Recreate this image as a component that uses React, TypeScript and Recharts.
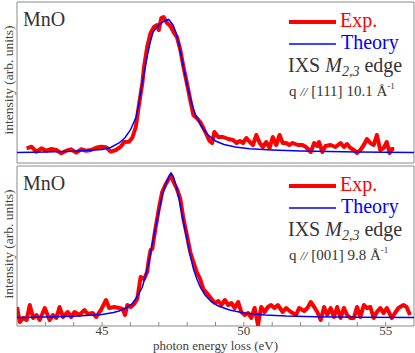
import { LineChart, Line, XAxis, YAxis, ReferenceArea } from 'recharts';

const FONT = 'Liberation Serif, Times New Roman, serif';
const FRAME = '#8a8a8a';
const INK = '#333333';
const AXIS_INK = '#404040';

// photon energy loss (eV)
const xTicks = [43, 44, 45, 46, 47, 48, 49, 50, 51, 52, 53, 54, 55];
const xTickLabels = ['', '', '45', '', '', '', '', '50', '', '', '', '', '55'];

// panel 1: q // [111] 10.1 A^-1, experiment
const expE111 = [42.34, 42.51, 42.69, 42.86, 43.04, 43.21, 43.39, 43.56, 43.74, 43.91, 44.09, 44.26, 44.44, 44.61, 44.79, 44.96, 45.14, 45.31, 45.49, 45.66, 45.78, 45.95, 46.07, 46.19, 46.3, 46.42, 46.48, 46.59, 46.71, 46.83, 46.94, 47.0, 47.09, 47.17, 47.29, 47.41, 47.52, 47.64, 47.76, 47.87, 47.99, 48.11, 48.22, 48.34, 48.46, 48.57, 48.69, 48.79, 48.88, 48.96, 49.1, 49.27, 49.45, 49.62, 49.74, 49.86, 49.97, 50.09, 50.21, 50.32, 50.44, 50.56, 50.67, 50.79, 50.91, 51.02, 51.14, 51.26, 51.37, 51.49, 51.6, 51.72, 51.9, 52.07, 52.19, 52.36, 52.48, 52.59, 52.65, 52.77, 52.88, 53.06, 53.23, 53.41, 53.53, 53.64, 53.76, 53.88, 53.99, 54.11, 54.23, 54.34, 54.46, 54.58, 54.69, 54.81, 54.93, 55.04, 55.14, 55.22, 55.3];
const expI111 = [14.7, 16.3, 11.3, 14.7, 12.3, 14, 13, 9.7, 12.3, 13.7, 10.3, 13.7, 12.3, 13, 15.3, 16.3, 15.7, 11.3, 13, 16.3, 21, 21.3, 25.5, 36, 58, 80, 96, 116, 130, 136, 138, 133, 145, 146, 140, 137, 131, 126, 113, 96, 80, 63, 48, 45, 41, 35, 28, 22, 20, 31, 26, 26, 24, 23, 20, 22, 20, 25, 21, 18, 28, 20, 16, 21, 15, 26, 18, 28, 20, 20, 18, 20, 18, 18, 16, 11, 20, 17, 21, 11, 17, 18, 16, 20, 16, 19, 15, 13, 10, 13, 18, 24, 20, 18, 28, 13, 15, 21, 10, 14, 14];

// panel 1: theory
const thE111 = [42.0, 43.0, 44.0, 44.6, 45.0, 45.3, 45.6, 45.8, 46.0, 46.2, 46.3, 46.4, 46.5, 46.6, 46.7, 46.8, 47.0, 47.2, 47.35, 47.5, 47.6, 47.7, 47.8, 47.9, 48.0, 48.1, 48.2, 48.3, 48.5, 48.7, 49.0, 49.3, 49.7, 50.2, 51.0, 52.0, 53.0, 54.0, 55.0, 56.0];
const thI111 = [10.5, 11, 11.8, 12.7, 13.5, 15.5, 20, 25, 33, 46, 60, 77, 93, 108, 121, 131, 138, 142, 143.5, 138, 131, 120, 106, 92, 78, 66, 56, 48, 37, 29, 22, 18.5, 16, 14.2, 13, 12, 11.4, 11, 10.7, 10.5];

// panel 2: q // [001] 9.8 A^-1, experiment
const expE001 = [42.0, 42.1, 42.22, 42.34, 42.45, 42.57, 42.69, 42.8, 42.98, 43.15, 43.27, 43.39, 43.5, 43.62, 43.79, 43.91, 44.03, 44.2, 44.38, 44.49, 44.67, 44.79, 44.96, 45.14, 45.25, 45.43, 45.6, 45.72, 45.81, 45.89, 46.01, 46.13, 46.24, 46.36, 46.48, 46.59, 46.65, 46.71, 46.77, 46.88, 47.0, 47.12, 47.23, 47.35, 47.43, 47.52, 47.64, 47.76, 47.87, 47.99, 48.11, 48.22, 48.34, 48.46, 48.57, 48.69, 48.75, 48.86, 48.98, 49.1, 49.21, 49.33, 49.45, 49.56, 49.68, 49.8, 49.91, 50.03, 50.15, 50.26, 50.38, 50.5, 50.61, 50.73, 50.85, 50.96, 51.08, 51.2, 51.37, 51.49, 51.66, 51.84, 51.95, 52.13, 52.24, 52.36, 52.48, 52.59, 52.71, 52.83, 52.94, 53.06, 53.18, 53.29, 53.41, 53.53, 53.64, 53.76, 53.88, 53.99, 54.11, 54.23, 54.34, 54.46, 54.58, 54.69, 54.81, 54.93, 55.04, 55.22, 55.33, 55.45, 55.63, 55.74, 55.86];
const expI001 = [19, 4, 8, 6, 21, 8, 11, 6, 18, 6, 11, 8, 19, 9, 14, 9, 14, 11, 16, 12, 13, 9, 16, 26, 18, 19, 18, 17, 11, 21, 19, 22, 27, 49, 47, 54, 67, 76, 77, 97, 117, 134, 141, 147, 151, 144, 137, 127, 107, 91, 74, 64, 54, 47, 37, 33, 31, 27, 23, 25, 21, 26, 21, 23, 18, 24, 14, 11, 13, 8, 18, 1, 19, 14, 19, 21, 18, 21, 14, 18, 14, 11, 18, 15, 18, 24, 19, 14, 6, 19, 11, 18, 9, 19, 8, 18, 11, 8, 8, 19, 9, 21, 18, 19, 8, 14, 18, 13, 18, 8, 13, 18, 21, 19, 11];

// panel 2: theory
const thE001 = [42.0, 43.0, 44.0, 45.0, 45.4, 45.6, 45.84, 46.07, 46.24, 46.42, 46.53, 46.65, 46.76, 46.88, 47.0, 47.12, 47.23, 47.35, 47.43, 47.52, 47.64, 47.76, 47.87, 47.99, 48.11, 48.22, 48.34, 48.46, 48.63, 48.86, 49.1, 49.5, 50.0, 50.75, 51.5, 52.5, 54.0, 56.0];
const thI001 = [8.5, 9, 9.8, 11.5, 13.5, 15, 17.8, 22.5, 29.5, 39, 50, 64, 80.7, 97.3, 114, 130.7, 140.7, 149, 153, 149, 137.3, 120.7, 104, 87.3, 70.7, 57.3, 47.3, 39, 31, 24, 20, 16, 13, 11, 10, 9.3, 8.8, 8.5];

type Pt = { e: number; v: number };
const zip = (e: number[], v: number[]): Pt[] => e.map((x, i) => ({ e: x, v: v[i] }));

type PanelProps = {
  top: number;
  height: number;
  mt: number;
  mb: number;
  yMax: number;
  exp: Pt[];
  theory: Pt[];
  labels: boolean;
};

function Panel({ top, height, mt, mb, yMax, exp, theory, labels }: PanelProps) {
  return (
    <div style={{ position: 'absolute', left: 0, top }}>
      <LineChart width={415} height={height} margin={{ top: mt, right: 1, bottom: mb, left: 17 }}>
        <XAxis
          xAxisId="b"
          type="number"
          dataKey="e"
          domain={[42, 56]}
          allowDataOverflow
          ticks={xTicks}
          interval={0}
          height={1}
          tickSize={-4}
          tickMargin={4}
          axisLine={false}
          tickLine={{ stroke: FRAME }}
          tick={labels ? { fill: AXIS_INK, fontSize: 13, fontFamily: FONT } : false}
          tickFormatter={(v: number) => xTickLabels[xTicks.indexOf(v)] ?? ''}
          label={
            labels
              ? { value: 'photon energy loss (eV)', position: 'bottom', offset: 14, fill: AXIS_INK, fontSize: 13, fontFamily: FONT }
              : undefined
          }
        />
        <XAxis
          xAxisId="t"
          orientation="top"
          type="number"
          dataKey="e"
          domain={[42, 56]}
          allowDataOverflow
          ticks={xTicks}
          interval={0}
          height={1}
          tickSize={-4}
          axisLine={false}
          tickLine={{ stroke: FRAME }}
          tick={false}
        />
        <YAxis yAxisId="l" type="number" domain={[0, yMax]} allowDataOverflow hide />
        <ReferenceArea xAxisId="b" yAxisId="l" x1={42} x2={56} y1={0} y2={yMax} fill="none" stroke={FRAME} ifOverflow="visible" />
        <Line xAxisId="b" yAxisId="l" data={exp} dataKey="v" type="linear" stroke="#ff0000" strokeWidth={4} strokeLinejoin="round" dot={false} isAnimationActive={false} />
        <Line xAxisId="b" yAxisId="l" data={theory} dataKey="v" type="linear" stroke="#0000ff" strokeWidth={1.5} dot={false} isAnimationActive={false} />
      </LineChart>
    </div>
  );
}

function Notes({ pt, dir, q }: { pt: number; dir: string; q: string }) {
  return (
    <g fontFamily={FONT}>
      <text transform="rotate(-90)" x={-(pt + 78)} y={12.5} textAnchor="middle" fontSize={13.5} fill={AXIS_INK}>
        intensity (arb. units)
      </text>
      <text x={23} y={pt + 24} fontSize={20} fill={INK}>MnO</text>
      <line x1={289} x2={336} y1={pt + 20} y2={pt + 20} stroke="#ff0000" strokeWidth={4} />
      <text x={340} y={pt + 25} fontSize={20} fill="#ff0000">Exp.</text>
      <line x1={289} x2={336} y1={pt + 42} y2={pt + 42} stroke="#0000ff" strokeWidth={1.5} />
      <text x={341} y={pt + 47} fontSize={20} fill="#0000ff">Theory</text>
      <text x={288} y={pt + 70} fontSize={20} fill={INK}>
        IXS <tspan fontStyle="italic">M</tspan>
        <tspan fontStyle="italic" fontSize={14} dy={4}>2,3</tspan>
        <tspan dy={-4}> edge</tspan>
      </text>
      <text x={289} y={pt + 93.5} fontSize={15} fill={INK}>
        q <tspan fontStyle="italic" fontSize={13}>//</tspan> {dir} {q} Å
        <tspan fontSize={9} dy={-7}>-1</tspan>
      </text>
    </g>
  );
}

export default function App() {
  return (
    <div style={{ position: 'absolute', left: 0, top: 0, width: 415, height: 353, background: '#fff' }}>
      <Panel top={0} height={166} mt={1} mb={2} yMax={161} exp={zip(expE111, expI111)} theory={zip(thE111, thI111)} labels={false} />
      <Panel top={163} height={190} mt={2} mb={26} yMax={160} exp={zip(expE001, expI001)} theory={zip(thE001, thI001)} labels />
      <svg width={415} height={353} style={{ position: 'absolute', left: 0, top: 0, pointerEvents: 'none' }}>
        <Notes pt={2} dir="[111]" q="10.1" />
        <Notes pt={166} dir="[001]" q="9.8" />
      </svg>
    </div>
  );
}
